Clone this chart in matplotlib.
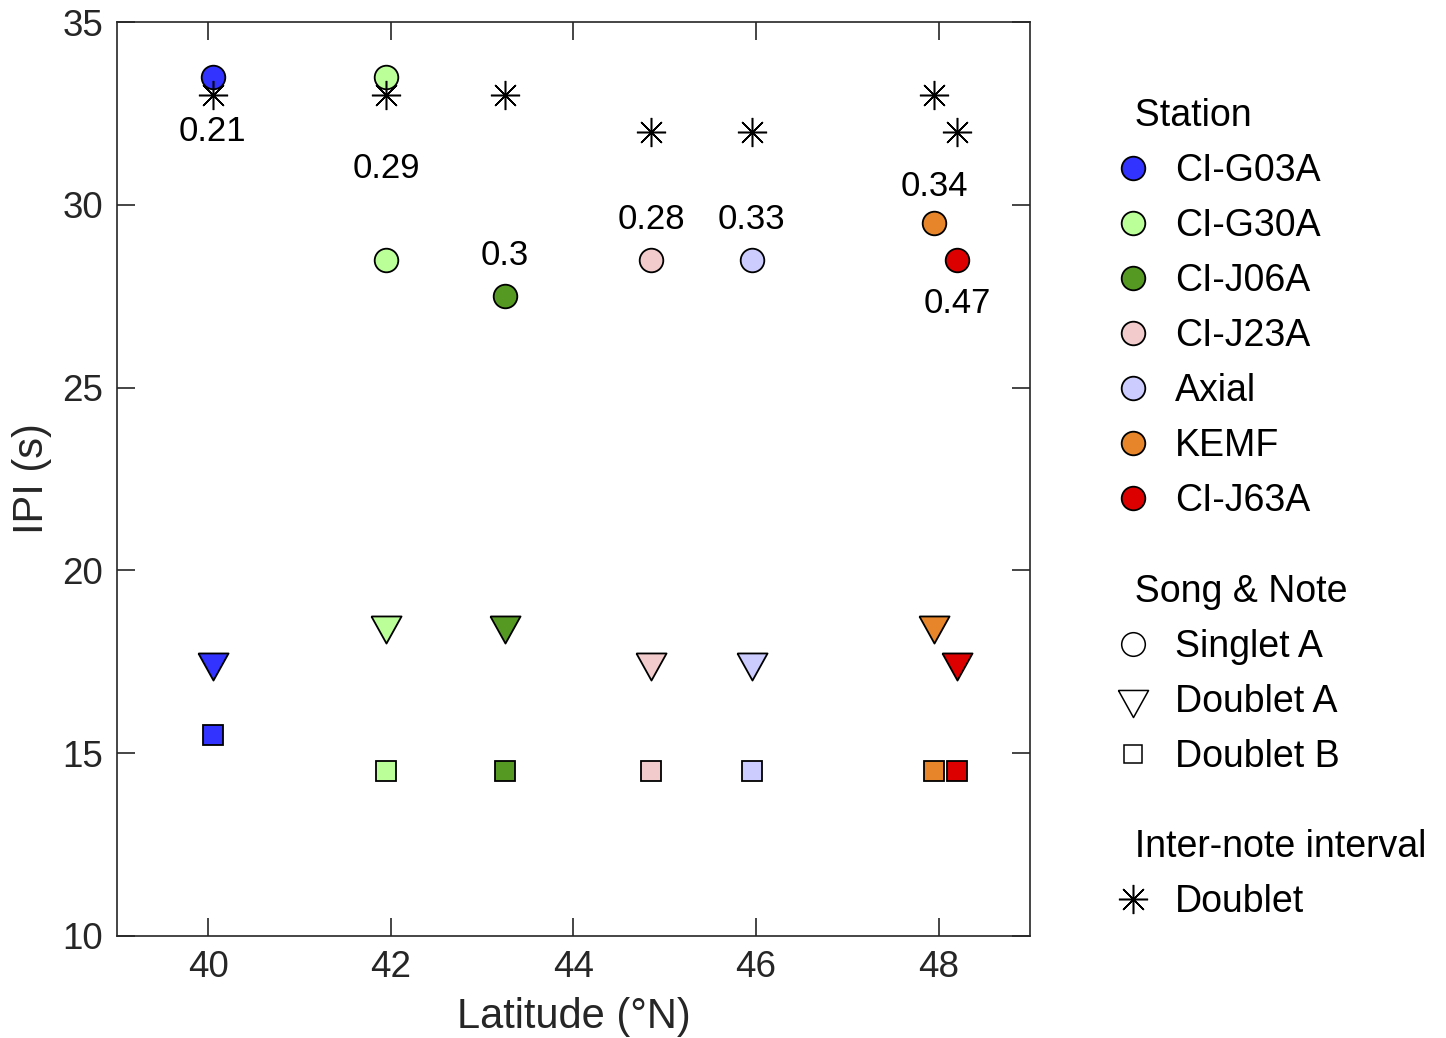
"""IPI versus latitude for fin whale song notes, one colour per station."""

import matplotlib
matplotlib.use("Agg")
import matplotlib.pyplot as plt
from matplotlib.lines import Line2D

plt.rcParams["font.family"] = ["Liberation Sans", "DejaVu Sans"]

# --- data ------------------------------------------------------------------
stations = ["CI-G03A", "CI-G30A", "CI-J06A", "CI-J23A", "Axial", "KEMF", "CI-J63A"]
latitude = [40.05, 41.95, 43.25, 44.85, 45.95, 47.95, 48.2]
singlet_a = [[33.5], [33.5, 28.5], [27.5], [28.5], [28.5], [29.5], [28.5]]
doublet_a = [17.5, 18.5, 18.5, 17.5, 17.5, 18.5, 17.5]
doublet_b = [15.5, 14.5, 14.5, 14.5, 14.5, 14.5, 14.5]
inter_note = [33, 33, 33, 32, 32, 33, 32]
ratio_labels = ["0.21", "0.29", "0.3", "0.28", "0.33", "0.34", "0.47"]

# where each ratio label sits (y, data units)
label_y = [32.0, 31.0, 28.6, 29.6, 29.6, 30.5, 27.3]
colors = ["#3333FF", "#BBFF99", "#559922", "#F2CCCC", "#CCCCFF", "#E6852A", "#DD0000"]

FS_TICK = 26.5
FS_LAB = 30
FS_NOTE = 25
FS_LEG = 27
AXC = "#262626"
# down triangle with its centroid on the data point (Matlab style)
TRI = [(-15, 9), (15, 9), (0, -18), (-15, 9)]

fig = plt.figure(figsize=(14.46, 10.38), dpi=100)
ax = fig.add_axes([0.0809, 0.0983, 0.6314, 0.8805])

for lat, sa, da, db, col in zip(latitude, singlet_a, doublet_a, doublet_b, colors):
    ax.plot([lat] * len(sa), sa, "o", ms=17, mfc=col, mec="black", mew=1.3, zorder=3)
    ax.plot(lat, da, marker=TRI, ls="none", ms=26, mfc=col, mec="black", mew=1.3, zorder=3)
    ax.plot(lat, db, "s", ms=15, mfc=col, mec="black", mew=1.3, zorder=3)

ax.plot(latitude, inter_note, ls="none", marker=(8, 2, 0), ms=21, mec="black",
        mew=1.1, zorder=4)

for lat, y, txt in zip(latitude, label_y, ratio_labels):
    ax.text(lat, y, txt, ha="center", va="center", fontsize=FS_NOTE, color="black")

ax.set_xlim(39, 49)
ax.set_ylim(10, 35)
ax.set_xticks([40, 42, 44, 46, 48])
ax.set_yticks([10, 15, 20, 25, 30, 35])
ax.tick_params(direction="in", length=13, width=1.2, colors=AXC, labelsize=FS_TICK,
               top=True, right=True, pad=10)
for sp in ax.spines.values():
    sp.set_linewidth(1.2)
    sp.set_color(AXC)
ax.set_xlabel("Latitude (°N)", fontsize=FS_LAB, color=AXC, labelpad=9)
ax.set_ylabel("IPI (s)", fontsize=FS_LAB, color=AXC, labelpad=7)

# --- legend: three stacked groups --------------------------------------------
leg_kw = dict(loc="upper left", frameon=False, fontsize=FS_LEG, title_fontsize=FS_LEG,
              alignment="left", borderpad=0, handlelength=1.0, handletextpad=0.63,
              labelspacing=0.51, borderaxespad=0)

station_handles = [Line2D([], [], ls="none", marker="o", ms=17, mfc=c, mec="black", mew=1.3)
                   for c in colors]
fig.legend(station_handles, stations, title="  Station",
           bbox_to_anchor=(0.7705, 0.906), **leg_kw)

note_handles = [
    Line2D([], [], ls="none", marker="o", ms=17, mfc="none", mec="black", mew=1.1),
    Line2D([], [], ls="none", marker=TRI, ms=26, mfc="none", mec="black", mew=1.1),
    Line2D([], [], ls="none", marker="s", ms=13, mfc="none", mec="black", mew=1.1),
]
fig.legend(note_handles, ["Singlet A", "Doublet A", "Doublet B"],
           title="  Song & Note", bbox_to_anchor=(0.7705, 0.447), **leg_kw)

star_handle = [Line2D([], [], ls="none", marker=(8, 2, 0), ms=21, mec="black", mew=1.1)]
fig.legend(star_handle, ["Doublet"], title="  Inter-note interval",
           bbox_to_anchor=(0.7705, 0.201), **leg_kw)

fig.savefig("out.png", dpi=100)
